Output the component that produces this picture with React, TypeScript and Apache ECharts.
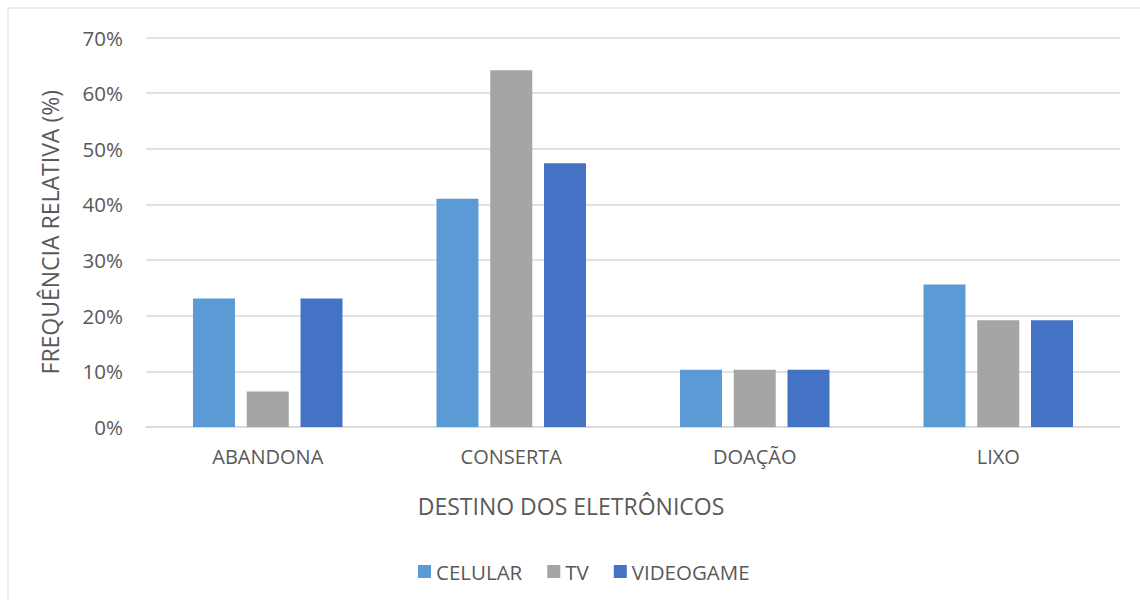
import React, { useEffect, useRef } from "react";
import * as echarts from "echarts";

const categories = ["ABANDONA", "CONSERTA", "DOAÇÃO", "LIXO"];
const celular = [23.1, 41.0, 10.3, 25.6];
const tv = [6.4, 64.1, 10.3, 19.2];
const videogame = [23.1, 47.4, 10.3, 19.2];
const seriesNames = ["CELULAR", "TV", "VIDEOGAME"];
const colors = ["#5B9BD5", "#A5A5A5", "#4472C4"];

const FONT = "'Open Sans', sans-serif";
const TXT = "#595959";

export default function App() {
  const ref = useRef<HTMLDivElement>(null);
  useEffect(() => {
    if (!ref.current) return;
    const chart = echarts.init(ref.current, null, { renderer: "svg" });
    const data = [celular, tv, videogame];
    chart.setOption({
      animation: false,
      backgroundColor: "#ffffff",
      textStyle: { fontFamily: FONT },
      graphic: [
        {
          type: "rect",
          shape: { x: 8, y: 8, width: 1140, height: 600 },
          style: { fill: "none", stroke: "#D9D9D9", lineWidth: 1 },
          silent: true,
        },
      ],
      grid: { left: 146, right: 20, top: 37.5, bottom: 173, containLabel: false },
      legend: {
        left: 413,
        top: 556,
        itemWidth: 13,
        itemHeight: 13,
        itemGap: 25,
        icon: "rect",
        textStyle: { color: TXT, fontSize: 20.5, fontFamily: FONT },
        data: seriesNames,
      },
      xAxis: {
        type: "category",
        data: categories,
        name: "DESTINO DOS ELETRÔNICOS",
        nameLocation: "middle",
        nameGap: 67,
        nameTextStyle: {
          color: TXT,
          fontSize: 23,
          fontFamily: FONT,
          padding: [0, 124, 0, 0],
        },
        axisLine: { show: true, lineStyle: { color: "#D9D9D9", width: 1.5 } },
        axisTick: { show: false },
        axisLabel: { color: TXT, fontSize: 20, margin: 19, fontFamily: FONT },
      },
      yAxis: {
        type: "value",
        min: 0,
        max: 70,
        interval: 10,
        name: "FREQUÊNCIA RELATIVA (%)",
        nameLocation: "middle",
        nameGap: 85,
        nameRotate: 90,
        nameTextStyle: { color: TXT, fontSize: 23, fontFamily: FONT },
        axisLine: { show: false },
        axisTick: { show: false },
        axisLabel: {
          color: TXT,
          fontSize: 20.5,
          margin: 23,
          fontFamily: FONT,
          formatter: (v: number) => `${v}%`,
        },
        splitLine: { lineStyle: { color: "#D9D9D9", width: 1.5 } },
      },
      series: seriesNames.map((name, i) => ({
        name,
        type: "bar",
        data: data[i],
        barWidth: 42,
        barGap: "28%",
        itemStyle: { color: colors[i] },
      })),
    });
    return () => chart.dispose();
  }, []);
  return (
    <div
      ref={ref}
      style={{ position: "fixed", left: 0, top: 0, width: 1140, height: 600 }}
    />
  );
}
